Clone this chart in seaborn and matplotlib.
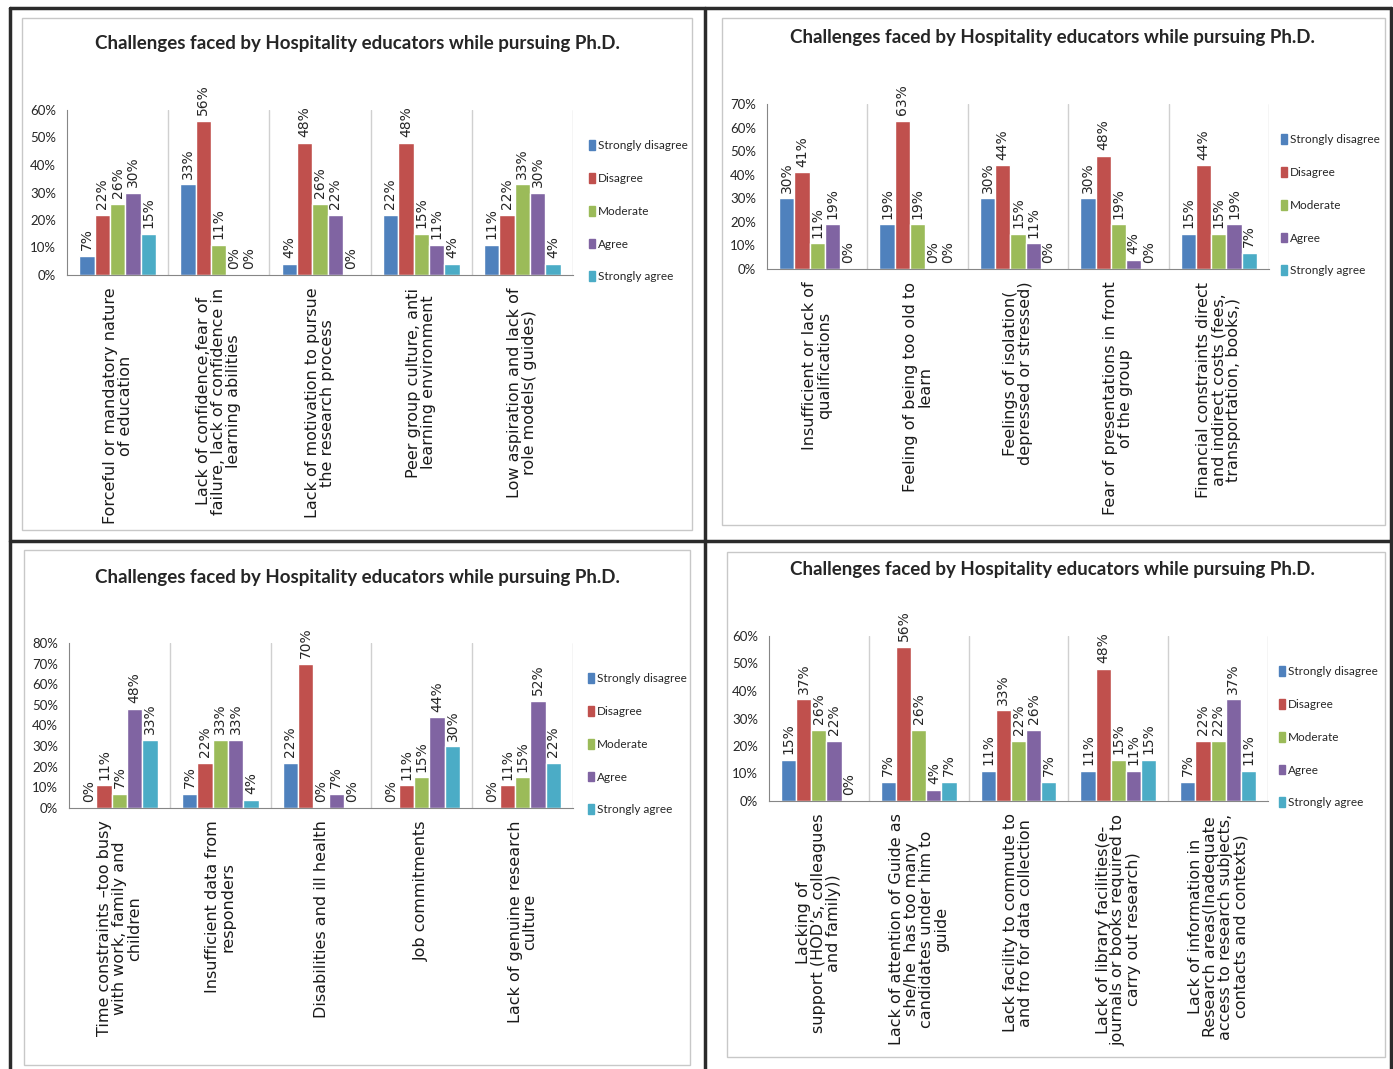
import matplotlib
matplotlib.use("Agg")
import matplotlib.pyplot as plt
from matplotlib.patches import Rectangle
from matplotlib.lines import Line2D
from matplotlib.ticker import FormatStrFormatter
import seaborn as sns
import pandas as pd

W, H = 1393, 1069

title = "Challenges faced by Hospitality educators while pursuing Ph.D."
responses = ["Strongly disagree", "Disagree", "Moderate", "Agree", "Strongly agree"]
colors = ["#4F81BD", "#C0504D", "#9BBB59", "#8064A2", "#4BACC6"]

# top left chart
cats_tl = ["Forceful or mandatory nature\nof education",
           "Lack of confidence,fear of\nfailure, lack of confidence in\nlearning abilities",
           "Lack of motivation to pursue\nthe research process",
           "Peer group culture, anti\nlearning environment",
           "Low aspiration and lack of\nrole models( guides)"]
vals_tl = [[7, 22, 26, 30, 15],
           [33, 56, 11, 0, 0],
           [4, 48, 26, 22, 0],
           [22, 48, 15, 11, 4],
           [11, 22, 33, 30, 4]]

# top right chart
cats_tr = ["Insufficient or lack of\nqualifications",
           "Feeling of being too old to\nlearn",
           "Feelings of isolation(\ndepressed or stressed)",
           "Fear of presentations in front\nof the group",
           "Financial constraints direct\nand indirect costs (fees,\ntransportation, books,)"]
vals_tr = [[30, 41, 11, 19, 0],
           [19, 63, 19, 0, 0],
           [30, 44, 15, 11, 0],
           [30, 48, 19, 4, 0],
           [15, 44, 15, 19, 7]]

# bottom left chart
cats_bl = ["Time constraints \u2013too busy\nwith work, family and\nchildren",
           "Insufficient data from\nresponders",
           "Disabilities and ill health",
           "Job commitments",
           "Lack of genuine research\nculture"]
vals_bl = [[0, 11, 7, 48, 33],
           [7, 22, 33, 33, 4],
           [22, 70, 0, 7, 0],
           [0, 11, 15, 44, 30],
           [0, 11, 15, 52, 22]]

# bottom right chart
cats_br = ["Lacking of\nsupport (HOD\u2019s, colleagues\nand family))",
           "Lack of attention of Guide as\nshe/he  has too many\ncandidates under him to\nguide",
           "Lack facility to commute to\nand fro for data collection",
           "Lack of library facilities(e-\njournals or books required to\ncarry out research)",
           "Lack of information in\nResearch areas(Inadequate\naccess to research subjects,\ncontacts and contexts)"]
vals_br = [[15, 37, 26, 22, 0],
           [7, 56, 26, 4, 7],
           [11, 33, 22, 26, 7],
           [11, 48, 15, 11, 15],
           [7, 22, 22, 37, 11]]

ymax = [60, 70, 80, 60]

sns.set_style("white")
narrow = ["Lato", "DejaVu Sans"]
wide = ["DejaVu Sans"]
plt.rcParams["font.family"] = ["DejaVu Sans"]


def fbox(l, t, r, b):
    return [l / W, 1 - b / H, (r - l) / W, (b - t) / H]


fig = plt.figure(figsize=(W / 100, H / 100), dpi=100)

# panel frames
for l, t, r, b in [(22, 18, 692, 530), (722, 18, 1385, 525),
                   (24, 550, 690, 1065), (727, 552, 1385, 1057)]:
    fig.add_artist(Rectangle((l / W, 1 - b / H), (r - l) / W, (b - t) / H,
                             transform=fig.transFigure, fill=False,
                             edgecolor="#C8C8C8", lw=1))
for xs, ys in [((10, 1391), (8, 8)), ((10, 10), (8, 1069)), ((705, 705), (8, 1069)),
               ((10, 1391), (541, 541)), ((1391, 1391), (8, 1069))]:
    fig.add_artist(Line2D([x / W for x in xs], [1 - y / H for y in ys],
                          transform=fig.transFigure, color="#2b2b2b", lw=2.5))

panels = [(cats_tl, vals_tl, (67, 110, 573, 275), (357, 44), (589, 140)),
          (cats_tr, vals_tr, (767, 104, 1269, 269), (1052, 38), (1281, 134)),
          (cats_bl, vals_bl, (69, 643, 573, 808), (357, 577), (588, 673)),
          (cats_br, vals_br, (769, 636, 1268, 801), (1052, 570), (1279, 666))]

handles = [Rectangle((0, 0), 1, 1, color=c) for c in colors]

for (cats, vals, (l, t, r, b), (tx, ty), (lx, ly)), top in zip(panels, ymax):
    rows = []
    for cat, row in zip(cats, vals):
        for resp, v in zip(responses, row):
            rows.append({"challenge": cat, "response": resp, "pct": v})
    df = pd.DataFrame(rows)

    ax = fig.add_axes(fbox(l, t, r, b))
    sns.barplot(data=df, x="challenge", y="pct", hue="response", order=cats,
                hue_order=responses, palette=colors, saturation=1, width=0.76,
                errorbar=None, legend=False, ax=ax)
    for cont in ax.containers:
        ax.bar_label(cont, fmt="%d%%", rotation=90, padding=4, fontsize=10,
                     color="#262626", family=wide)

    ax.set_xlim(-0.5, 4.5)
    ax.set_ylim(0, top)
    ax.set_yticks(range(0, top + 1, 10))
    ax.yaxis.set_major_formatter(FormatStrFormatter("%d%%"))
    for lab in ax.get_yticklabels():
        lab.set_family(narrow)
        lab.set_fontsize(9.5)
    ax.set_xticks(range(5))
    ax.set_xticklabels(cats, rotation=90, va="top", ha="center",
                       multialignment="center", family=wide,
                       fontsize=11.5, linespacing=1.0, color="#1a1a1a")
    ax.set_xticks([i + 0.5 for i in range(5)], minor=True)
    ax.tick_params(axis="x", which="major", length=0, pad=9)
    ax.tick_params(axis="x", which="minor", length=5, color="#BFBFBF")
    ax.tick_params(axis="y", length=4, color="#868686", pad=4)
    for i in range(5):
        ax.axvline(i + 0.5, color="#D0D0D0", lw=1, zorder=0)
    sns.despine(ax=ax)
    ax.spines["left"].set_color("#868686")
    ax.spines["bottom"].set_color("#868686")
    ax.set_xlabel("")
    ax.set_ylabel("")

    fig.text(tx / W, 1 - ty / H, title, ha="center", va="center",
             fontsize=13.5, fontweight="bold", family=narrow)
    fig.legend(handles, responses, loc="upper left",
               bbox_to_anchor=(lx / W, 1 - ly / H), frameon=False,
               handlelength=0.5, handleheight=0.9, handletextpad=0.25,
               labelspacing=1.85, borderpad=0, borderaxespad=0,
               prop={"family": narrow, "size": 8.5})

fig.savefig("out.png", dpi=100, facecolor="white")
